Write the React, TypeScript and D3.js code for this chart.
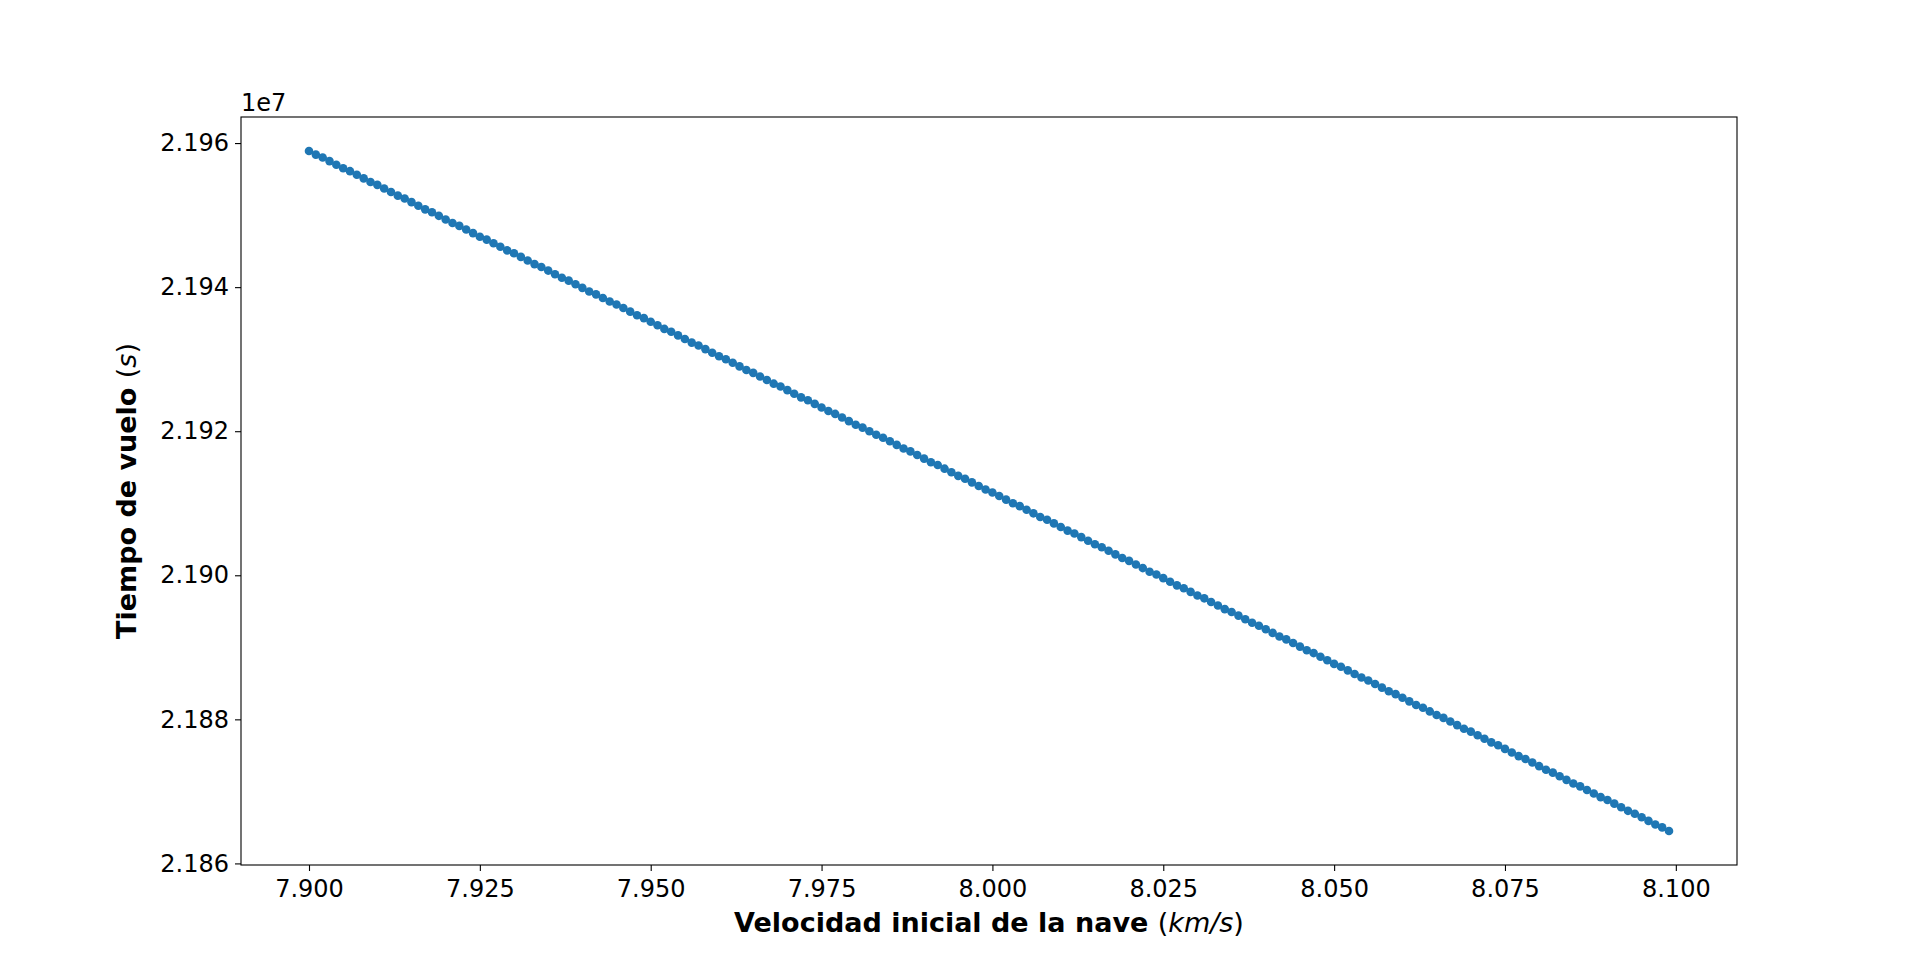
import { useEffect, useRef } from "react";
import * as d3 from "d3";

// velocidad inicial (m/s)
const velocidad = [
  7900, 7901, 7902, 7903, 7904, 7905, 7906, 7907, 7908, 7909,
  7910, 7911, 7912, 7913, 7914, 7915, 7916, 7917, 7918, 7919,
  7920, 7921, 7922, 7923, 7924, 7925, 7926, 7927, 7928, 7929,
  7930, 7931, 7932, 7933, 7934, 7935, 7936, 7937, 7938, 7939,
  7940, 7941, 7942, 7943, 7944, 7945, 7946, 7947, 7948, 7949,
  7950, 7951, 7952, 7953, 7954, 7955, 7956, 7957, 7958, 7959,
  7960, 7961, 7962, 7963, 7964, 7965, 7966, 7967, 7968, 7969,
  7970, 7971, 7972, 7973, 7974, 7975, 7976, 7977, 7978, 7979,
  7980, 7981, 7982, 7983, 7984, 7985, 7986, 7987, 7988, 7989,
  7990, 7991, 7992, 7993, 7994, 7995, 7996, 7997, 7998, 7999,
  8000, 8001, 8002, 8003, 8004, 8005, 8006, 8007, 8008, 8009,
  8010, 8011, 8012, 8013, 8014, 8015, 8016, 8017, 8018, 8019,
  8020, 8021, 8022, 8023, 8024, 8025, 8026, 8027, 8028, 8029,
  8030, 8031, 8032, 8033, 8034, 8035, 8036, 8037, 8038, 8039,
  8040, 8041, 8042, 8043, 8044, 8045, 8046, 8047, 8048, 8049,
  8050, 8051, 8052, 8053, 8054, 8055, 8056, 8057, 8058, 8059,
  8060, 8061, 8062, 8063, 8064, 8065, 8066, 8067, 8068, 8069,
  8070, 8071, 8072, 8073, 8074, 8075, 8076, 8077, 8078, 8079,
  8080, 8081, 8082, 8083, 8084, 8085, 8086, 8087, 8088, 8089,
  8090, 8091, 8092, 8093, 8094, 8095, 8096, 8097, 8098, 8099,
];

// tiempo de vuelo (x 100 s)
const tiempo = [
  219589, 219584, 219580, 219575, 219570, 219565, 219561, 219556, 219551, 219546,
  219542, 219537, 219532, 219527, 219523, 219518, 219513, 219508, 219504, 219499,
  219494, 219489, 219485, 219480, 219475, 219470, 219466, 219461, 219456, 219451,
  219447, 219442, 219437, 219432, 219428, 219423, 219418, 219413, 219409, 219404,
  219399, 219394, 219390, 219385, 219380, 219376, 219371, 219366, 219361, 219357,
  219352, 219347, 219342, 219338, 219333, 219328, 219323, 219319, 219314, 219309,
  219304, 219300, 219295, 219290, 219285, 219281, 219276, 219271, 219266, 219262,
  219257, 219252, 219247, 219243, 219238, 219233, 219228, 219224, 219219, 219214,
  219209, 219205, 219200, 219195, 219191, 219186, 219181, 219176, 219172, 219167,
  219162, 219157, 219153, 219148, 219143, 219138, 219134, 219129, 219124, 219119,
  219115, 219110, 219105, 219100, 219096, 219091, 219086, 219081, 219077, 219072,
  219067, 219062, 219058, 219053, 219048, 219043, 219039, 219034, 219029, 219024,
  219020, 219015, 219010, 219005, 219001, 218996, 218991, 218986, 218982, 218977,
  218972, 218968, 218963, 218958, 218953, 218949, 218944, 218939, 218934, 218930,
  218925, 218920, 218915, 218911, 218906, 218901, 218896, 218892, 218887, 218882,
  218877, 218873, 218868, 218863, 218858, 218854, 218849, 218844, 218839, 218835,
  218830, 218825, 218820, 218816, 218811, 218806, 218802, 218797, 218792, 218787,
  218783, 218778, 218773, 218768, 218764, 218759, 218754, 218749, 218745, 218740,
  218735, 218730, 218726, 218721, 218716, 218711, 218707, 218702, 218697, 218692,
  218688, 218683, 218678, 218673, 218669, 218664, 218659, 218654, 218650, 218645,
];

const xTicks = [7.9, 7.925, 7.95, 7.975, 8.0, 8.025, 8.05, 8.075, 8.1];
const yTicks = [2.186, 2.188, 2.19, 2.192, 2.194, 2.196];

export default function App() {
  const ref = useRef<SVGSVGElement>(null);

  useEffect(() => {
    const svg = d3.select(ref.current);
    svg.selectAll("*").remove();

    const left = 241, right = 1737, top = 117, bottom = 865;
    const font = "'DejaVu Sans', sans-serif";
    const data = velocidad.map((v, i) => ({ x: v / 1000, y: tiempo[i] / 100000 }));

    const xExt = d3.extent(data, (d) => d.x) as [number, number];
    const yExt = d3.extent(data, (d) => d.y) as [number, number];
    const xm = (xExt[1] - xExt[0]) * 0.05;
    const ym = (yExt[1] - yExt[0]) * 0.05;

    const x = d3.scaleLinear().domain([xExt[0] - xm, xExt[1] + xm]).range([left, right]);
    const y = d3.scaleLinear().domain([yExt[0] - ym, yExt[1] + ym]).range([bottom, top]);

    // points
    svg.append("g")
      .selectAll("circle")
      .data(data)
      .enter()
      .append("circle")
      .attr("cx", (d) => x(d.x))
      .attr("cy", (d) => y(d.y))
      .attr("r", 4.3)
      .attr("fill", "#1f77b4");

    // axes
    const xAxis = svg.append("g")
      .attr("transform", `translate(0,${bottom})`)
      .call(d3.axisBottom(x).tickValues(xTicks).tickFormat(d3.format(".3f")).tickSize(6).tickSizeOuter(0).tickPadding(6));
    const yAxis = svg.append("g")
      .attr("transform", `translate(${left},0)`)
      .call(d3.axisLeft(y).tickValues(yTicks).tickFormat(d3.format(".3f")).tickSize(6).tickSizeOuter(0).tickPadding(6));
    [xAxis, yAxis].forEach((a) => {
      a.select(".domain").remove();
      a.selectAll("line").attr("stroke", "#000").attr("stroke-width", 1.1);
      a.selectAll("text").attr("font-family", font).attr("font-size", 24).attr("fill", "#000");
    });
    xAxis.selectAll("text").attr("dy", "0.85em");

    // frame
    svg.append("rect")
      .attr("x", left).attr("y", top)
      .attr("width", right - left).attr("height", bottom - top)
      .attr("fill", "none").attr("stroke", "#000").attr("stroke-width", 1.1);

    // offset text
    svg.append("text")
      .attr("x", left).attr("y", 111)
      .attr("font-family", font).attr("font-size", 24)
      .text("1e7");

    // x label
    const xl = svg.append("text")
      .attr("x", (left + right) / 2).attr("y", 932)
      .attr("text-anchor", "middle")
      .attr("font-family", font).attr("font-size", 27);
    xl.append("tspan").attr("font-weight", "bold").text("Velocidad inicial de la nave ");
    xl.append("tspan").text("(");
    xl.append("tspan").attr("font-style", "italic").text("km/s");
    xl.append("tspan").text(")");

    // y label
    const yl = svg.append("text")
      .attr("transform", `translate(136,${(top + bottom) / 2}) rotate(-90)`)
      .attr("text-anchor", "middle")
      .attr("font-family", font).attr("font-size", 27);
    yl.append("tspan").attr("font-weight", "bold").text("Tiempo de vuelo ");
    yl.append("tspan").text("(");
    yl.append("tspan").attr("font-style", "italic").text("s");
    yl.append("tspan").text(")");
  }, []);

  return (
    <svg
      ref={ref}
      width={1920}
      height={967}
      style={{ position: "absolute", left: 0, top: 0, background: "#fff" }}
    />
  );
}
